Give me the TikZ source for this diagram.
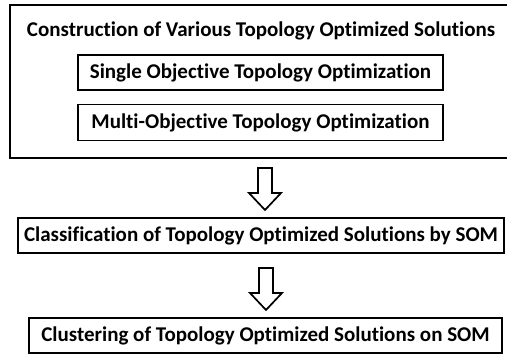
\documentclass[tikz,border=0pt]{standalone}
\usepackage{fontspec}
\setmainfont{Carlito}[Ligatures=NoCommon]
\usetikzlibrary{positioning}

\begin{document}
\begin{tikzpicture}[x=1pt,y=1pt,
box/.style={draw,line width=1.8pt,inner sep=0pt,font=\fontsize{21}{24}\selectfont\bfseries},
hollow/.style={line width=1.7pt,line join=miter,to path={
([xshift=-7pt]\tikztostart)--([xshift=-7pt,yshift=17pt]\tikztotarget)
--([xshift=-16pt,yshift=17pt]\tikztotarget)--(\tikztotarget)
--([xshift=16pt,yshift=17pt]\tikztotarget)--([xshift=7pt,yshift=17pt]\tikztotarget)
--([xshift=7pt]\tikztostart)--cycle}}]
\useasboundingbox(0,0)rectangle(507,356);
\node[box,anchor=north west,minimum width=510,minimum height=152.5](outer)at(9,351.5){};
\node[box,draw=none,anchor=base](title)at(261,319){Construction of Various Topology Optimized Solutions};
\node[box,minimum width=365,minimum height=35](single)at(260.5,283.5){Single Objective Topology Optimization};
\node[box,minimum width=365,minimum height=36](multi)at(260.5,233.5){Multi-Objective Topology Optimization};
\node[box,minimum width=486,minimum height=35](classif)at(261,120.5){Classification of Topology Optimized Solutions by SOM};
\node[box,minimum width=473,minimum height=35](cluster)at(265.5,20.5){Clustering of Topology Optimized Solutions on SOM};
\coordinate(a1s)at(265,188);
\coordinate(a1e)at(265,146);
\coordinate(a2s)at(266,88);
\coordinate(a2e)at(266,46);
\draw[hollow](a1s)to(a1e);
\draw[hollow](a2s)to(a2e);
\end{tikzpicture}
\end{document}
